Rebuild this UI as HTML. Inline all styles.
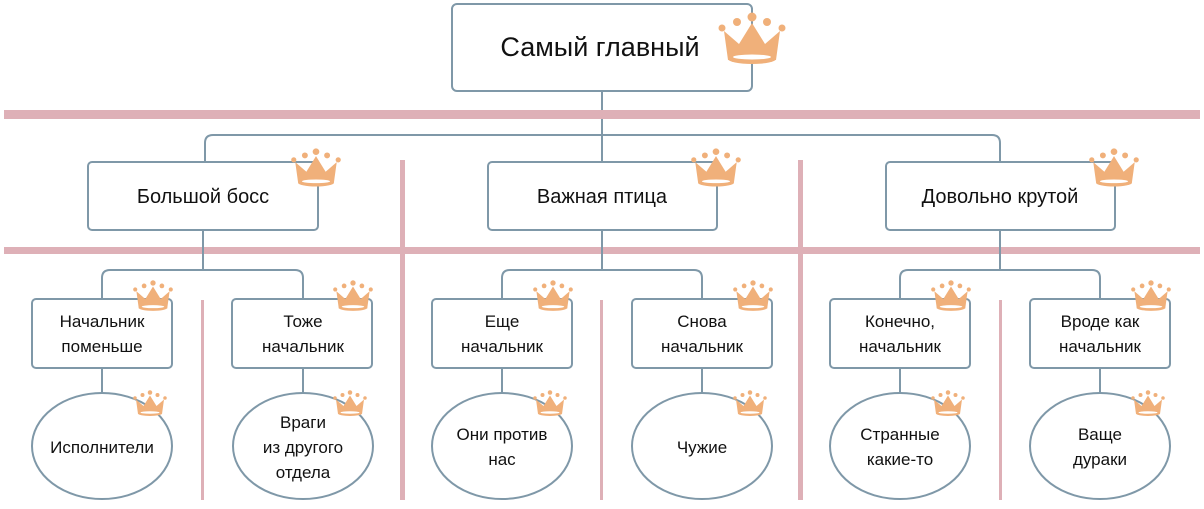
<!DOCTYPE html>
<html><head><meta charset="utf-8"><style>
html,body{margin:0;padding:0;background:#fff;}
svg text{font-family:"Liberation Sans",sans-serif;fill:#111;text-anchor:middle;}
</style></head><body>
<svg width="1204" height="504" viewBox="0 0 1204 504" xmlns="http://www.w3.org/2000/svg">
<defs>
<symbol id="cr" viewBox="0 0 70 54">
<circle cx="5" cy="16" r="3.5" fill="#f0b07a"/>
<circle cx="20" cy="10" r="4" fill="#f0b07a"/>
<circle cx="35" cy="5" r="4.5" fill="#f0b07a"/>
<circle cx="50" cy="10" r="4" fill="#f0b07a"/>
<circle cx="65" cy="16" r="3.5" fill="#f0b07a"/>
<polygon points="11,48 7,19 22,32 35,11 48,32 63,19 59,48" fill="#f0b07a"/>
<ellipse cx="35" cy="47" rx="24" ry="5" fill="#f0b07a"/>
<ellipse cx="35" cy="45" rx="19" ry="2.5" fill="#fff"/>
</symbol>
</defs>
<g fill="none" stroke="#7f98a8" stroke-width="2">
<!-- top -->
<rect x="452" y="4" width="300" height="87" rx="5" fill="#fff"/>
<line x1="602" y1="91" x2="602" y2="162"/>
<path d="M205 162 V143 Q205 135 213 135 H992 Q1000 135 1000 143 V162"/>
<rect x="88" y="162" width="230" height="68" rx="4" fill="#fff"/>
<rect x="488" y="162" width="229" height="68" rx="4" fill="#fff"/>
<rect x="886" y="162" width="229" height="68" rx="4" fill="#fff"/>
</g>
<rect x="4" y="110" width="1196" height="9" fill="#deb0b7"/>
<rect x="4" y="247" width="1196" height="7" fill="#deb0b7"/>
<rect x="400" y="160" width="5" height="340" fill="#deb0b7"/>
<rect x="798" y="160" width="5" height="340" fill="#deb0b7"/>
<rect x="201" y="300" width="3" height="200" fill="#deb0b7"/>
<rect x="600" y="300" width="3" height="200" fill="#deb0b7"/>
<rect x="999" y="300" width="3" height="200" fill="#deb0b7"/>
<g fill="none" stroke="#7f98a8" stroke-width="2">
<line x1="203" y1="230" x2="203" y2="270"/>
<line x1="602" y1="230" x2="602" y2="270"/>
<line x1="1000" y1="230" x2="1000" y2="270"/>
<path d="M102 299 V278 Q102 270 110 270 H295 Q303 270 303 278 V299"/>
<path d="M502 299 V278 Q502 270 510 270 H694 Q702 270 702 278 V299"/>
<path d="M900 299 V278 Q900 270 908 270 H1092 Q1100 270 1100 278 V299"/>
<g fill="#fff">
<rect x="32" y="299" width="140" height="69" rx="4"/><rect x="232" y="299" width="140" height="69" rx="4"/>
<rect x="432" y="299" width="140" height="69" rx="4"/><rect x="632" y="299" width="140" height="69" rx="4"/>
<rect x="830" y="299" width="140" height="69" rx="4"/><rect x="1030" y="299" width="140" height="69" rx="4"/>
</g>
<line x1="102" y1="368" x2="102" y2="393"/><line x1="303" y1="368" x2="303" y2="393"/>
<line x1="502" y1="368" x2="502" y2="393"/><line x1="702" y1="368" x2="702" y2="393"/>
<line x1="900" y1="368" x2="900" y2="393"/><line x1="1100" y1="368" x2="1100" y2="393"/>
<g fill="#fff">
<ellipse cx="102" cy="446" rx="70" ry="53"/><ellipse cx="303" cy="446" rx="70" ry="53"/>
<ellipse cx="502" cy="446" rx="70" ry="53"/><ellipse cx="702" cy="446" rx="70" ry="53"/>
<ellipse cx="900" cy="446" rx="70" ry="53"/><ellipse cx="1100" cy="446" rx="70" ry="53"/>
</g>
</g>
<use href="#cr" x="717" y="12" width="70" height="54"/>
<use href="#cr" x="290" y="148" width="52" height="40"/>
<use href="#cr" x="690" y="148" width="52" height="40"/>
<use href="#cr" x="1088" y="148" width="52" height="40"/>
<g>
<use href="#cr" x="132" y="280" width="42" height="32"/><use href="#cr" x="332" y="280" width="42" height="32"/>
<use href="#cr" x="532" y="280" width="42" height="32"/><use href="#cr" x="732" y="280" width="42" height="32"/>
<use href="#cr" x="930" y="280" width="42" height="32"/><use href="#cr" x="1130" y="280" width="42" height="32"/>
<use href="#cr" x="132" y="390" width="36" height="27"/><use href="#cr" x="332" y="390" width="36" height="27"/>
<use href="#cr" x="532" y="390" width="36" height="27"/><use href="#cr" x="732" y="390" width="36" height="27"/>
<use href="#cr" x="930" y="390" width="36" height="27"/><use href="#cr" x="1130" y="390" width="36" height="27"/>
</g>
<text x="600" y="56" font-size="27">Самый главный</text>
<text x="203" y="203" font-size="20">Большой босс</text>
<text x="602" y="203" font-size="20">Важная птица</text>
<text x="1000" y="203" font-size="20">Довольно крутой</text>
<g font-size="17">
<text x="102" y="327">Начальник</text><text x="102" y="352">поменьше</text>
<text x="303" y="327">Тоже</text><text x="303" y="352">начальник</text>
<text x="502" y="327">Еще</text><text x="502" y="352">начальник</text>
<text x="702" y="327">Снова</text><text x="702" y="352">начальник</text>
<text x="900" y="327">Конечно,</text><text x="900" y="352">начальник</text>
<text x="1100" y="327">Вроде как</text><text x="1100" y="352">начальник</text>
<text x="102" y="453">Исполнители</text>
<text x="303" y="428">Враги</text><text x="303" y="453">из другого</text><text x="303" y="478">отдела</text>
<text x="502" y="440">Они против</text><text x="502" y="465">нас</text>
<text x="702" y="453">Чужие</text>
<text x="900" y="440">Странные</text><text x="900" y="465">какие-то</text>
<text x="1100" y="440">Ваще</text><text x="1100" y="465">дураки</text>
</g>
</svg>
</body></html>
